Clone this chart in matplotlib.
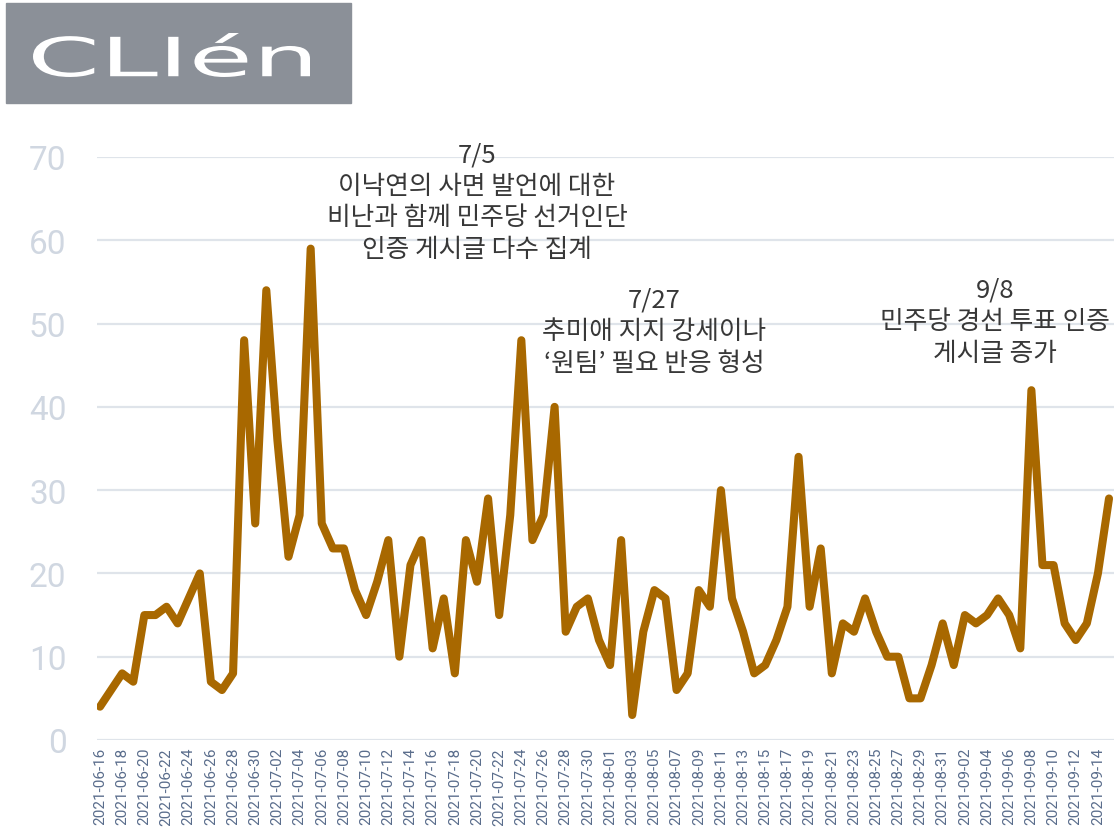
import matplotlib
matplotlib.use("Agg")
import matplotlib.pyplot as plt
import matplotlib.dates as mdates
from matplotlib.patches import Rectangle, PathPatch
from matplotlib.textpath import TextPath
from matplotlib.font_manager import FontProperties
from matplotlib.transforms import Affine2D
import pandas as pd

# daily post counts, 2021-06-16 .. 2021-09-15
start_date = "2021-06-16"
end_date = "2021-09-15"
counts = [
    4, 6, 8, 7, 15, 15, 16, 14, 17, 20, 7, 6, 8, 48, 26,          # Jun 16-30
    54, 36, 22, 27, 59, 26, 23, 23, 18, 15, 19, 24, 10, 21, 24,   # Jul 1-15
    11, 17, 8, 24, 19, 29, 15, 27, 48, 24, 27, 40, 13, 16, 17, 12,  # Jul 16-31
    9, 24, 3, 13, 18, 17, 6, 8, 18, 16, 30, 17, 13, 8, 9,         # Aug 1-15
    12, 16, 34, 16, 23, 8, 14, 13, 17, 13, 10, 10, 5, 5, 9, 14,   # Aug 16-31
    9, 15, 14, 15, 17, 15, 11, 42, 21, 21, 14, 12, 14, 20, 29,    # Sep 1-15
]
y_ticks = [0, 10, 20, 30, 40, 50, 60, 70]

annotations = [
    ("2021-07-20", ["7/5", "이낙연의 사면 발언에 대한", "비난과 함께 민주당 선거인단", "인증 게시글 다수 집계"]),
    ("2021-08-05", ["7/27", "추미애 지지 강세이나", "‘원팀’ 필요 반응 형성"]),
    ("2021-09-04", ["9/8", "민주당 경선 투표 인증", "게시글 증가"]),
]

LINE_COLOR = "#a86800"
GRID_COLOR = "#dfe4ea"
YTICK_COLOR = "#d0d7e1"
XTICK_COLOR = "#5a6d8c"
TEXT_COLOR = "#383838"
KR_FONT = ["Noto Sans CJK KR", "DejaVu Sans"]
W, H = 1114, 829

dates = pd.date_range(start=start_date, end=end_date, freq="D")

fig = plt.figure(figsize=(W / 100, H / 100), dpi=100)
ax = fig.add_axes([97 / W, 88 / H, 1017 / W, 583 / H])

ax.plot(dates, counts, color=LINE_COLOR, linewidth=5.8,
        solid_joinstyle="round", solid_capstyle="round", zorder=3)

ax.set_ylim(0, 70)
x0 = mdates.date2num(dates[0])
x1 = mdates.date2num(dates[-1])
ax.set_xlim(x0 - 0.27, x1 + 0.45)

ax.set_yticks(y_ticks)
ax.set_yticklabels([str(v) for v in y_ticks], fontsize=24, color=YTICK_COLOR,
                   family=["Roboto", "DejaVu Sans"])
ax.set_xticks(dates[::2])
ax.set_xticklabels([d.strftime("%Y-%m-%d") for d in dates[::2]], rotation=90,
                   fontsize=11, color=XTICK_COLOR, family=["Roboto", "DejaVu Sans"])
ax.tick_params(axis="y", length=0, pad=22)
ax.tick_params(axis="x", length=0, pad=5)
ax.grid(axis="y", color=GRID_COLOR, linewidth=1.6)
ax.set_axisbelow(True)
for s in ax.spines.values():
    s.set_visible(False)

# annotation blocks
tops = [70.35, 52.9, 54.1]
shifts = [0.0, 0.0, 0.7]
for (d, lines), top, sh in zip(annotations, tops, shifts):
    xd = mdates.date2num(pd.Timestamp(d)) + sh
    for i, line in enumerate(lines):
        ax.annotate(line, xy=(xd, top), xytext=(0, -22.8 * i), textcoords="offset points",
                    ha="center", va="center", fontsize=18.5, color=TEXT_COLOR,
                    family=KR_FONT, annotation_clip=False)

# logo block
fig.patches.append(Rectangle((6 / W, 1 - 104 / H), 345 / W, 100 / H,
                             transform=fig.transFigure, color="#8b9098", zorder=0))
tp = TextPath((0, 0), "CLIén", size=40, prop=FontProperties(family="DejaVu Sans"))
bb = tp.get_extents()
# stretch the word into the logo box (pixels, origin bottom-left)
lx0, lx1, ly0, ly1 = 33, 310, H - 78, H - 34
sx = (lx1 - lx0) / bb.width
sy = (ly1 - ly0) / bb.height
tr = Affine2D().translate(-bb.x0, -bb.y0).scale(sx, sy).translate(lx0, ly0)
logo = PathPatch(tr.transform_path(tp), facecolor="white", edgecolor="none",
                 transform=None)
fig.patches.append(logo)

fig.savefig("out.png", dpi=100)
